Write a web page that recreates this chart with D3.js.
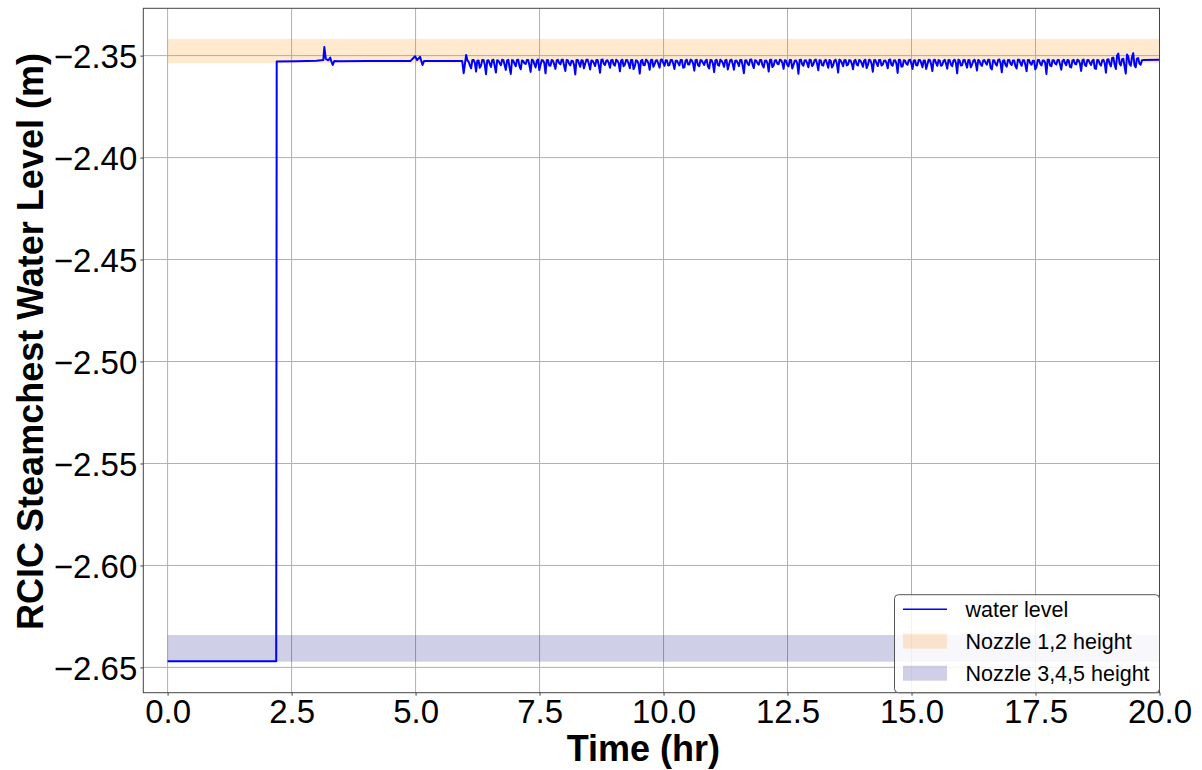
<!DOCTYPE html>
<html>
<head>
<meta charset="utf-8">
<script src="https://cdn.jsdelivr.net/npm/d3@7"></script>
<style>
  body { margin: 0; background: #fff; }
  text { font-family: "Liberation Sans", Arial, sans-serif; fill: #000; }
  .grid line { stroke: #b0b0b0; stroke-width: 1; }
  .axis path, .axis line { stroke: #444; }
</style>
</head>
<body>
<div id="chart"></div>
<script>
// data: time (hr) and steamchest water level (m)
var startTime  = [0.00, 2.19, 2.20, 2.60, 3.00, 3.14, 3.16, 3.19, 3.24, 3.28, 3.30, 3.33, 3.36, 3.45, 4.00, 4.90, 4.99, 5.03, 5.09, 5.14, 5.17, 5.50, 5.94];
var startLevel = [-2.6470, -2.6470, -2.3529, -2.3528, -2.3525, -2.3522, -2.3458, -2.3516, -2.3523, -2.3510, -2.3527, -2.3546, -2.3527, -2.3528, -2.3527, -2.3526, -2.3503, -2.3522, -2.3506, -2.3546, -2.3527, -2.3527, -2.3526];

// oscillating part: samples every noiseStep hours from noiseStart,
// plus the in-between samples (half a step later)
var noiseStart = 5.97, noiseStep = 0.05;
var noiseLevel = [
  -2.3586, -2.3497, -2.3530, -2.3562, -2.3521, -2.3578, -2.3524, -2.3549, -2.3522, -2.3591, -2.3523, -2.3556, -2.3520, -2.3583, -2.3525, -2.3547, -2.3522, -2.3570, -2.3521, -2.3590,
  -2.3524, -2.3552, -2.3520, -2.3567, -2.3526, -2.3541, -2.3521, -2.3580, -2.3523, -2.3558, -2.3519, -2.3545, -2.3524, -2.3587, -2.3522, -2.3550, -2.3525, -2.3565, -2.3521, -2.3543,
  -2.3520, -2.3575, -2.3523, -2.3548, -2.3526, -2.3592, -2.3521, -2.3555, -2.3524, -2.3540, -2.3520, -2.3568, -2.3525, -2.3551, -2.3522, -2.3584, -2.3519, -2.3546, -2.3523, -2.3560,
  -2.3521, -2.3549, -2.3525, -2.3577, -2.3520, -2.3544, -2.3523, -2.3562, -2.3522, -2.3553, -2.3526, -2.3588, -2.3521, -2.3547, -2.3524, -2.3570, -2.3520, -2.3542, -2.3523, -2.3559,
  -2.3519, -2.3550, -2.3524, -2.3545, -2.3521, -2.3566, -2.3525, -2.3548, -2.3522, -2.3557, -2.3520, -2.3543, -2.3523, -2.3574, -2.3521, -2.3552, -2.3524, -2.3546, -2.3520, -2.3563,
  -2.3523, -2.3581, -2.3521, -2.3549, -2.3525, -2.3555, -2.3522, -2.3544, -2.3520, -2.3569, -2.3524, -2.3551, -2.3521, -2.3586, -2.3523, -2.3547, -2.3519, -2.3561, -2.3525, -2.3545,
  -2.3521, -2.3558, -2.3524, -2.3578, -2.3520, -2.3548, -2.3523, -2.3542, -2.3522, -2.3565, -2.3525, -2.3553, -2.3521, -2.3546, -2.3524, -2.3589, -2.3520, -2.3550, -2.3523, -2.3557,
  -2.3522, -2.3544, -2.3519, -2.3572, -2.3524, -2.3549, -2.3521, -2.3560, -2.3525, -2.3547, -2.3520, -2.3583, -2.3523, -2.3552, -2.3522, -2.3543, -2.3524, -2.3567, -2.3521, -2.3548,
  -2.3525, -2.3555, -2.3520, -2.3546, -2.3523, -2.3579, -2.3522, -2.3551, -2.3521, -2.3544, -2.3524, -2.3562, -2.3519, -2.3549, -2.3523, -2.3585, -2.3521, -2.3553, -2.3525, -2.3545,
  -2.3520, -2.3566, -2.3523, -2.3548, -2.3521, -2.3557, -2.3524, -2.3543, -2.3522, -2.3576, -2.3520, -2.3550, -2.3525, -2.3546, -2.3521, -2.3564, -2.3523, -2.3552, -2.3520, -2.3587,
  -2.3524, -2.3547, -2.3521, -2.3559, -2.3523, -2.3545, -2.3520, -2.3573, -2.3525, -2.3551, -2.3522, -2.3544, -2.3521, -2.3568, -2.3524, -2.3549, -2.3519, -2.3582, -2.3523, -2.3554,
  -2.3521, -2.3546, -2.3524, -2.3563, -2.3520, -2.3550, -2.3523, -2.3577, -2.3522, -2.3545, -2.3525, -2.3556, -2.3521, -2.3548, -2.3524, -2.3590, -2.3520, -2.3552, -2.3523, -2.3544,
  -2.3522, -2.3569, -2.3520, -2.3547, -2.3524, -2.3558, -2.3521, -2.3543, -2.3523, -2.3575, -2.3519, -2.3551, -2.3522, -2.3546, -2.3520, -2.3565, -2.3523, -2.3549, -2.3521, -2.3584,
  -2.3518, -2.3553, -2.3510, -2.3566, -2.3490, -2.3548, -2.3515, -2.3588, -2.3505, -2.3550, -2.3488, -2.3557, -2.3512, -2.3545
];
var noiseLevelMid = [
  -2.3541, -2.3523, -2.3548, -2.3522, -2.3536, -2.3525, -2.3560, -2.3521, -2.3544, -2.3524, -2.3539, -2.3522, -2.3551, -2.3523, -2.3537, -2.3520, -2.3546, -2.3524, -2.3558, -2.3522,
  -2.3540, -2.3521, -2.3553, -2.3524, -2.3538, -2.3522, -2.3547, -2.3520, -2.3542, -2.3525, -2.3571, -2.3522, -2.3536, -2.3523, -2.3549, -2.3521, -2.3543, -2.3524, -2.3537, -2.3520,
  -2.3550, -2.3522, -2.3539, -2.3525, -2.3545, -2.3521, -2.3538, -2.3523, -2.3562, -2.3520, -2.3541, -2.3524, -2.3537, -2.3522, -2.3548, -2.3521, -2.3540, -2.3525, -2.3536, -2.3523,
  -2.3544, -2.3520, -2.3537, -2.3524, -2.3552, -2.3522, -2.3539, -2.3521, -2.3566, -2.3523, -2.3540, -2.3525, -2.3546, -2.3520, -2.3538, -2.3522, -2.3555, -2.3524, -2.3541, -2.3521,
  -2.3536, -2.3523, -2.3549, -2.3522, -2.3540, -2.3525, -2.3537, -2.3521, -2.3559, -2.3524, -2.3543, -2.3520, -2.3538, -2.3523, -2.3547, -2.3522, -2.3536, -2.3525, -2.3553, -2.3521,
  -2.3539, -2.3524, -2.3545, -2.3520, -2.3537, -2.3523, -2.3568, -2.3522, -2.3541, -2.3525, -2.3536, -2.3521, -2.3550, -2.3524, -2.3539, -2.3520, -2.3544, -2.3523, -2.3537, -2.3522,
  -2.3547, -2.3525, -2.3538, -2.3521, -2.3556, -2.3524, -2.3540, -2.3520, -2.3536, -2.3523, -2.3545, -2.3522, -2.3563, -2.3525, -2.3538, -2.3521, -2.3542, -2.3524, -2.3537, -2.3520,
  -2.3551, -2.3523, -2.3539, -2.3522, -2.3546, -2.3525, -2.3537, -2.3521, -2.3558, -2.3524, -2.3540, -2.3520, -2.3536, -2.3523, -2.3548, -2.3522, -2.3539, -2.3525, -2.3544, -2.3521,
  -2.3537, -2.3524, -2.3561, -2.3520, -2.3541, -2.3523, -2.3538, -2.3522, -2.3549, -2.3525, -2.3536, -2.3521, -2.3545, -2.3524, -2.3539, -2.3520, -2.3554, -2.3523, -2.3540, -2.3522,
  -2.3538, -2.3525, -2.3547, -2.3521, -2.3536, -2.3524, -2.3565, -2.3520, -2.3542, -2.3523, -2.3537, -2.3522, -2.3550, -2.3525, -2.3539, -2.3521, -2.3544, -2.3524, -2.3536, -2.3520,
  -2.3548, -2.3523, -2.3540, -2.3522, -2.3557, -2.3525, -2.3538, -2.3521, -2.3543, -2.3524, -2.3536, -2.3520, -2.3560, -2.3523, -2.3541, -2.3522, -2.3537, -2.3525, -2.3546, -2.3521,
  -2.3539, -2.3524, -2.3552, -2.3520, -2.3537, -2.3523, -2.3545, -2.3522, -2.3538, -2.3525, -2.3567, -2.3521, -2.3540, -2.3524, -2.3536, -2.3520, -2.3549, -2.3523, -2.3539, -2.3522,
  -2.3544, -2.3525, -2.3537, -2.3521, -2.3555, -2.3524, -2.3540, -2.3520, -2.3538, -2.3523, -2.3546, -2.3522, -2.3536, -2.3525, -2.3562, -2.3521, -2.3541, -2.3524, -2.3537, -2.3520,
  -2.3540, -2.3512, -2.3545, -2.3500, -2.3538, -2.3518, -2.3552, -2.3495, -2.3541, -2.3508, -2.3547, -2.3515, -2.3539, -2.3524
];
var endTime  = [19.68, 20.00];
var endLevel = [-2.3521, -2.3520];

// nozzle height bands [bottom, top] in m, over the time span
var bandNames  = ["Nozzle 1,2 height", "Nozzle 3,4,5 height"];
var bandLow    = [-2.3537, -2.6472];
var bandHigh   = [-2.3418, -2.6341];
var bandColors = ["darkorange", "navy"];
var bandTime   = [0, 20];

var xTicks = [0, 2.5, 5, 7.5, 10, 12.5, 15, 17.5, 20];
var yTicks = [-2.35, -2.40, -2.45, -2.50, -2.55, -2.60, -2.65];

var svgWidth = 1202, svgHeight = 770;
var margin = {top: 8.3, right: 42.5, bottom: 77.3, left: 143.3};
var chartWidth = svgWidth - margin.left - margin.right;
var chartHeight = svgHeight - margin.top - margin.bottom;

// build the series
var series = [];
startTime.forEach(function(t, i) { series.push({t: t, v: startLevel[i]}); });
noiseLevel.forEach(function(v, i) {
  series.push({t: noiseStart + i * noiseStep, v: v});
  if (i < noiseLevelMid.length) series.push({t: noiseStart + (i + 0.5) * noiseStep, v: noiseLevelMid[i]});
});
endTime.forEach(function(t, i) { series.push({t: t, v: endLevel[i]}); });

var svg = d3.select("#chart").append("svg")
  .attr("width", svgWidth)
  .attr("height", svgHeight);

var chartGroup = svg.append("g")
  .attr("transform", `translate(${margin.left}, ${margin.top})`);

var xScale = d3.scaleLinear().domain([-0.49, 20]).range([0, chartWidth]);
var yScale = d3.scaleLinear().domain([-2.6624, -2.3268]).range([chartHeight, 0]);

// grid
chartGroup.append("g").attr("class", "grid")
  .selectAll("line").data(xTicks).enter().append("line")
  .attr("x1", d => xScale(d)).attr("x2", d => xScale(d))
  .attr("y1", 0).attr("y2", chartHeight);
chartGroup.append("g").attr("class", "grid")
  .selectAll("line").data(yTicks).enter().append("line")
  .attr("y1", d => yScale(d)).attr("y2", d => yScale(d))
  .attr("x1", 0).attr("x2", chartWidth);

// bands
chartGroup.selectAll(".band").data(bandNames).enter().append("rect")
  .attr("class", "band")
  .attr("x", xScale(bandTime[0]))
  .attr("width", xScale(bandTime[1]) - xScale(bandTime[0]))
  .attr("y", (d, i) => yScale(bandHigh[i]))
  .attr("height", (d, i) => yScale(bandLow[i]) - yScale(bandHigh[i]))
  .attr("fill", (d, i) => bandColors[i])
  .attr("fill-opacity", 0.19);

// water level line
var line = d3.line().x(d => xScale(d.t)).y(d => yScale(d.v));
chartGroup.append("path")
  .datum(series)
  .attr("d", line)
  .attr("fill", "none")
  .attr("stroke", "#0000ff")
  .attr("stroke-width", 2)
  .attr("stroke-linejoin", "round");

// axes
var fmtX = d3.format(".1f");
var fmtY = d => d3.format(".2f")(d).replace("-", "\u2212");
var xAxis = chartGroup.append("g").attr("class", "axis")
  .attr("transform", `translate(0, ${chartHeight})`)
  .call(d3.axisBottom(xScale).tickValues(xTicks).tickFormat(fmtX).tickSize(3).tickPadding(3));
var yAxis = chartGroup.append("g").attr("class", "axis")
  .call(d3.axisLeft(yScale).tickValues(yTicks).tickFormat(fmtY).tickSize(3).tickPadding(3));
xAxis.select(".domain").remove();
yAxis.select(".domain").remove();
xAxis.selectAll("text").attr("font-size", 33).attr("dy", "0.74em").style("font-family", "Liberation Sans, Arial, sans-serif");
yAxis.selectAll("text").attr("font-size", 33).attr("dy", "0.36em").style("font-family", "Liberation Sans, Arial, sans-serif");

// frame
chartGroup.append("rect")
  .attr("width", chartWidth).attr("height", chartHeight)
  .attr("fill", "none").attr("stroke", "#444").attr("stroke-width", 1);

// axis labels
svg.append("text")
  .attr("x", margin.left + chartWidth / 2 - 8).attr("y", 761)
  .attr("text-anchor", "middle")
  .attr("font-size", 36).attr("font-weight", "bold")
  .text("Time (hr)");
svg.append("text")
  .attr("transform", `translate(43, ${margin.top + chartHeight / 2 - 9}) rotate(-90)`)
  .attr("text-anchor", "middle")
  .attr("font-size", 36).attr("font-weight", "bold")
  .text("RCIC Steamchest Water Level (m)");

// legend
var legend = chartGroup.append("g")
  .attr("transform", `translate(${chartWidth - 265}, ${chartHeight - 98})`);
legend.append("rect")
  .attr("width", 265).attr("height", 98).attr("rx", 4)
  .attr("fill", "#fff").attr("fill-opacity", 0.85)
  .attr("stroke", "#555").attr("stroke-width", 1);
legend.append("line")
  .attr("x1", 8.5).attr("x2", 52.5).attr("y1", 14.5).attr("y2", 14.5)
  .attr("stroke", "#0000ff").attr("stroke-width", 1.5);
legend.selectAll(".patch").data(bandNames).enter().append("rect")
  .attr("x", 8.5).attr("width", 44)
  .attr("y", (d, i) => 39 + i * 32).attr("height", 15)
  .attr("fill", (d, i) => bandColors[i]).attr("fill-opacity", 0.19);
legend.selectAll(".ltext").data(["water level"].concat(bandNames)).enter().append("text")
  .attr("x", 71).attr("y", (d, i) => 22.5 + i * 32)
  .attr("font-size", 21.5)
  .text(d => d);
</script>
</body>
</html>
